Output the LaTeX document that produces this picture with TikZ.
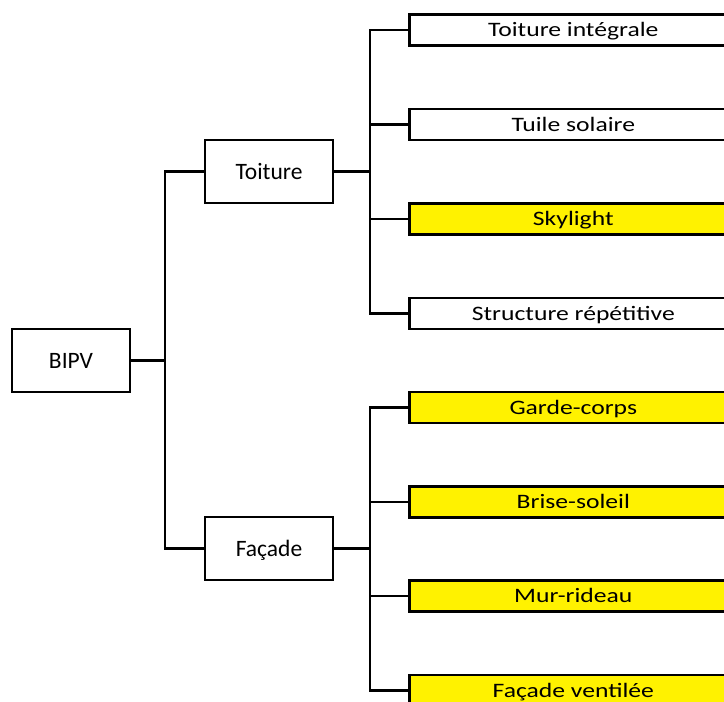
\documentclass[tikz,border=0pt]{standalone}
\usepackage{fontspec}
\setmainfont{Carlito}
\newcommand\lstr[1]{\scalebox{1.25}[1]{#1}}
\begin{document}
\begin{tikzpicture}[x=1pt,y=-1pt,
  box/.style={draw,line width=2.4pt,inner sep=0pt,minimum height=63pt,
    font=\fontsize{23.5}{27}\selectfont,text height=15pt,text depth=0pt},
  leaf/.style={draw,line width=2.6pt,inner sep=0pt,minimum width=328pt,
    minimum height=31pt,anchor=west,
    font=\fontsize{20.5}{24}\selectfont,text height=13.2pt,text depth=0pt},
  hl/.style={leaf,fill=yellow},
  link/.style={line width=2.3pt}]
\useasboundingbox (0,0) rectangle (724,702);
\clip (0,0) rectangle (724,702);
\node[box,minimum width=118pt] (bipv) at (71,360.5) {BIPV};
\node[box,minimum width=128pt] (toit) at (269,171.5) {Toiture};
\node[box,minimum width=128pt] (fac) at (269,548.5) {Façade};
\coordinate (j0) at (165,360.5);
\coordinate (j1) at (370,171.5);
\coordinate (j2) at (370,548.5);
\node[leaf] (l1) at (408,30) {\lstr{Toiture intégrale}};
\node[leaf] (l2) at (408,124.5) {\lstr{Tuile solaire}};
\node[hl]   (l3) at (408,219) {\lstr{Skylight}};
\node[leaf] (l4) at (408,313.5) {\lstr{Structure répétitive}};
\node[hl]   (l5) at (408,407.5) {\lstr{Garde-corps}};
\node[hl]   (l6) at (408,502) {\lstr{Brise-soleil}};
\node[hl]   (l7) at (408,596) {\lstr{Mur-rideau}};
\node[hl]   (l8) at (408,690.5) {\lstr{Façade ventilée}};
\draw[link] (bipv.east) -- (j0);
\draw[link] (toit.west) -| (j0) |- (fac.west);
\draw[link] (toit.east) -- (j1);
\draw[link] (l1.west) -| (j1) |- (l4.west);
\draw[link] (l2.west) -- (l2.west -| j1);
\draw[link] (l3.west) -- (l3.west -| j1);
\draw[link] (fac.east) -- (j2);
\draw[link] (l5.west) -| (j2) |- (l8.west);
\draw[link] (l6.west) -- (l6.west -| j2);
\draw[link] (l7.west) -- (l7.west -| j2);
\end{tikzpicture}
\end{document}
